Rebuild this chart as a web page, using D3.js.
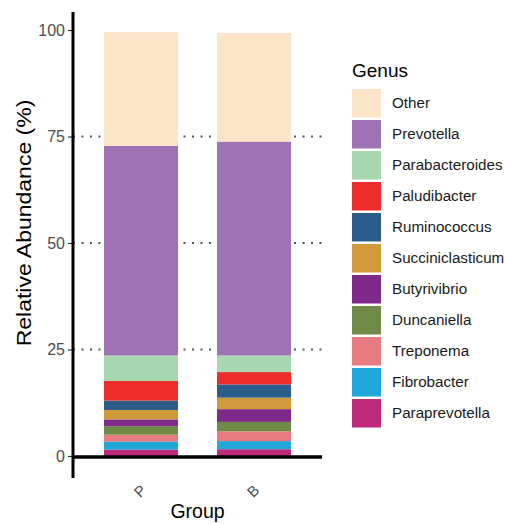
<!DOCTYPE html>
<html>
<head>
<meta charset="utf-8">
<script src="https://cdn.jsdelivr.net/npm/d3@7"></script>
<style>
  body { margin: 0; background: #fff; }
  text { font-family: "Liberation Sans", Arial, sans-serif; }
</style>
</head>
<body>
<div id="chart"></div>
<script>
// stacking order, bottom to top
const genera = ["Paraprevotella", "Fibrobacter", "Treponema", "Duncaniella", "Butyrivibrio",
  "Succiniclasticum", "Ruminococcus", "Paludibacter", "Parabacteroides", "Prevotella", "Other"];
const colors = ["#BE2A7A", "#22A7DB", "#E77B7F", "#6F8A47", "#7F2A8A",
  "#D09A3A", "#2B5C8A", "#EE2C2C", "#A8D8B0", "#9E72B4", "#FCE4C8"];
const groups = ["P", "B"];
const valuesP = [1.5, 1.9, 1.6, 2.0, 1.6, 2.2, 2.2, 4.6, 6.0, 49.2, 26.7];
const valuesB = [1.6, 1.9, 2.3, 2.2, 3.0, 2.7, 3.1, 2.9, 3.9, 50.2, 25.5];
const yTicks = [0, 25, 50, 75, 100];

const width = 505;
const height = 524;
const marginLeft = 73;
const plotRight = 322;

const rows = groups.map((g, i) => {
  const vals = i === 0 ? valuesP : valuesB;
  const r = { group: g };
  genera.forEach((k, j) => r[k] = vals[j]);
  return r;
});

const series = d3.stack().keys(genera)(rows);

const x = d3.scaleBand()
  .domain(groups)
  .range([marginLeft, plotRight])
  .paddingInner(0.345)
  .paddingOuter(0.274);

const y = d3.scaleLinear()
  .domain([0, 100])
  .range([456, 30]);

const color = d3.scaleOrdinal().domain(genera).range(colors);

const svg = d3.select("#chart")
  .append("svg")
  .attr("width", width)
  .attr("height", height)
  .attr("viewBox", [0, 0, width, height]);

// dotted grid
svg.append("g")
  .selectAll("line")
  .data([25, 50, 75])
  .join("line")
  .attr("x1", marginLeft)
  .attr("x2", plotRight)
  .attr("y1", d => y(d))
  .attr("y2", d => y(d))
  .attr("stroke", "#555")
  .attr("stroke-width", 2)
  .attr("stroke-dasharray", "2,6.5");

// bars
svg.append("g")
  .selectAll("g")
  .data(series)
  .join("g")
  .attr("fill", d => color(d.key))
  .selectAll("rect")
  .data(d => d)
  .join("rect")
  .attr("x", d => x(d.data.group))
  .attr("width", x.bandwidth())
  .attr("y", d => y(d[1]))
  .attr("height", d => y(d[0]) - y(d[1]));

// y axis
const yAxis = svg.append("g")
  .attr("transform", `translate(${marginLeft},0)`)
  .call(d3.axisLeft(y).tickValues(yTicks).tickSize(5).tickPadding(3));
yAxis.select(".domain").remove();
yAxis.selectAll(".tick line").attr("stroke", "#333").attr("stroke-width", 1.2);
yAxis.selectAll(".tick text")
  .attr("fill", "#4D4D4D")
  .attr("font-size", 16)
  .attr("font-family", "Liberation Sans, Arial, sans-serif");

svg.append("line")
  .attr("x1", marginLeft).attr("x2", marginLeft)
  .attr("y1", 12).attr("y2", 478)
  .attr("stroke", "#000").attr("stroke-width", 3);

// x axis
svg.append("line")
  .attr("x1", marginLeft).attr("x2", plotRight)
  .attr("y1", y(0) + 1).attr("y2", y(0) + 1)
  .attr("stroke", "#000").attr("stroke-width", 3.5);

svg.append("g")
  .selectAll("text")
  .data(groups)
  .join("text")
  .attr("transform", d => `translate(${x(d) + x.bandwidth() / 2},${492}) rotate(-45)`)
  .attr("text-anchor", "middle")
  .attr("dominant-baseline", "middle")
  .attr("fill", "#4D4D4D")
  .attr("font-size", 15)
  .text(d => d);

// axis titles
svg.append("text")
  .attr("x", (marginLeft + plotRight) / 2)
  .attr("y", 518)
  .attr("text-anchor", "middle")
  .attr("font-size", 19.5)
  .text("Group");

// the source image is stretched a little vertically, so the y title is longer
svg.append("text")
  .attr("transform", `translate(31,223) scale(1,1.18) rotate(-90)`)
  .attr("text-anchor", "middle")
  .attr("font-size", 19.5)
  .text("Relative Abundance (%)");

// legend
const legend = svg.append("g").attr("transform", "translate(352,0)");
legend.append("text")
  .attr("x", 0)
  .attr("y", 77)
  .attr("font-size", 19)
  .text("Genus");

const items = legend.selectAll("g.item")
  .data(genera.slice().reverse())
  .join("g")
  .attr("class", "item")
  .attr("transform", (d, i) => `translate(0,${89 + i * 31})`);

items.append("rect")
  .attr("width", 29)
  .attr("height", 28.5)
  .attr("fill", d => color(d));

items.append("text")
  .attr("x", 40)
  .attr("y", 14.5)
  .attr("dominant-baseline", "middle")
  .attr("font-size", 15.2)
  .attr("fill", "#1a1a1a")
  .text(d => d);
</script>
</body>
</html>
